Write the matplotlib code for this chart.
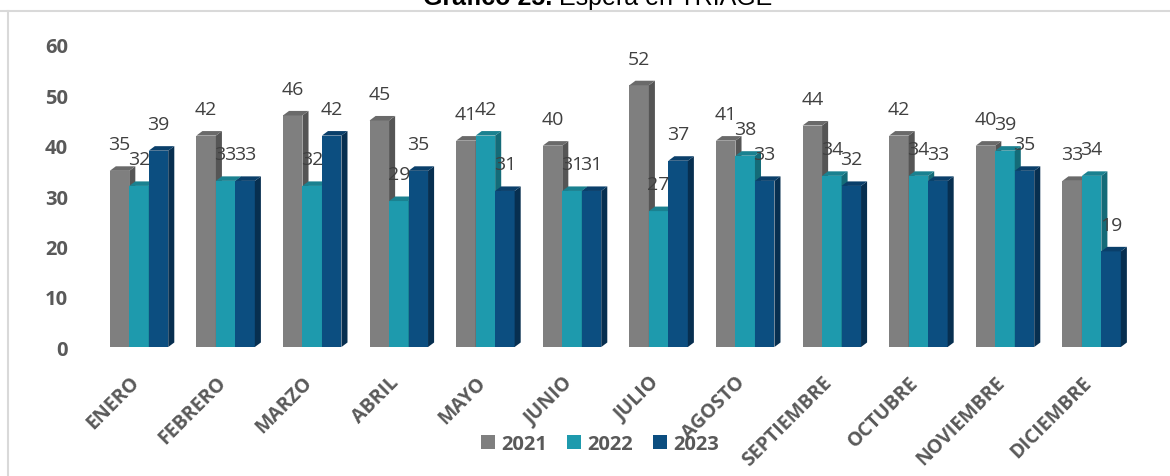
import matplotlib
matplotlib.use("Agg")
import matplotlib.pyplot as plt
import matplotlib.transforms as mtransforms
from matplotlib.patches import Polygon, Patch
from matplotlib.lines import Line2D
import numpy as np

months = ["ENERO", "FEBRERO", "MARZO", "ABRIL", "MAYO", "JUNIO", "JULIO",
          "AGOSTO", "SEPTIEMBRE", "OCTUBRE", "NOVIEMBRE", "DICIEMBRE"]
years = ["2021", "2022", "2023"]
v2021 = [35, 42, 46, 45, 41, 40, 52, 41, 44, 42, 40, 33]
v2022 = [32, 33, 32, 29, 42, 31, 27, 38, 34, 34, 39, 34]
v2023 = [39, 33, 42, 35, 31, 31, 37, 33, 32, 33, 35, 19]

front = ["#7f7f7f", "#1e9aad", "#0c4e80"]
side = ["#555555", "#146b78", "#072f50"]
top = ["#6a6a6a", "#1a8190", "#0a3f6a"]

plt.rcParams["font.family"] = ["Open Sans", "DejaVu Sans"]

fig = plt.figure(figsize=(11.7, 4.77), dpi=100)
ax = fig.add_axes([0.0818, 0.2704, 0.8882, 0.6332])

x = np.arange(len(months))
w = 0.225
dx, dy = 0.07, 0.9  # depth of the fake 3D faces, in data units

for k, vals in enumerate([v2021, v2022, v2023]):
    xs = x + (k - 1) * w
    ax.bar(xs, vals, width=w, color=front[k], zorder=3 + 3 * k, linewidth=0)
    for xc, h in zip(xs, vals):
        x0, x1 = xc - w / 2, xc + w / 2
        ax.add_patch(Polygon([(x1, 0), (x1 + dx, dy), (x1 + dx, h + dy), (x1, h)],
                             closed=True, facecolor=side[k], edgecolor="none",
                             zorder=4 + 3 * k))
        ax.add_patch(Polygon([(x0, h), (x0 + dx, h + dy), (x1 + dx, h + dy), (x1, h)],
                             closed=True, facecolor=top[k], edgecolor="none",
                             zorder=4 + 3 * k))
        ax.text(xc, h + 5.3, str(h), ha="center", va="center", fontsize=14,
                color="#404040", zorder=20)

ax.set_xlim(-0.5, len(months) - 0.5)
ax.set_ylim(0, 60)
ax.set_yticks(range(0, 61, 10))
ax.set_xticks(x)
ax.set_xticklabels([])

# month names, rotated, ending just under each group
lab_tr = ax.get_xaxis_transform() + mtransforms.ScaledTranslation(
    -0.10, -0.25, fig.dpi_scale_trans)
for i, m in enumerate(months):
    ax.text(i, 0, m, transform=lab_tr, rotation=45, ha="right", va="top",
            rotation_mode="anchor", fontsize=14, fontweight="bold",
            color="#595959")

for lab in ax.get_yticklabels():
    lab.set_fontweight("bold")
ax.tick_params(axis="y", length=0, pad=20, labelsize=14.5, labelcolor="#595959")
ax.tick_params(axis="x", length=0)
for s in ax.spines.values():
    s.set_visible(False)
ax.patch.set_visible(False)

handles = [Patch(facecolor=c, edgecolor="none") for c in front]
fig.legend(handles, years, loc="center", bbox_to_anchor=(0.513, 0.067),
           ncol=3, frameon=False, handlelength=0.7, handleheight=0.7,
           handletextpad=0.3, columnspacing=1.0,
           prop={"weight": "bold", "size": 14.5}, labelcolor="#595959")

# chart area border
fig.add_artist(Line2D([0, 1], [0.975, 0.975], transform=fig.transFigure,
                      color="#d9d9d9", lw=1.5))
fig.add_artist(Line2D([0.0065, 0.0065], [0, 0.975], transform=fig.transFigure,
                      color="#d9d9d9", lw=1.5))

# title, partly cut by the top edge
t1 = fig.text(0.5, 0.9895, "Gráfico 25.", ha="right", va="baseline",
              fontsize=18, fontweight="bold", family="Liberation Sans", color="black")
t2 = fig.text(0.5, 0.9895, " Espera en TRIAGE", ha="left", va="baseline",
              fontsize=18, family="Liberation Sans", color="black")
fig.canvas.draw()
r = fig.canvas.get_renderer()
w1 = t1.get_window_extent(r).width
w2 = t2.get_window_extent(r).width
cx = 598 - (w1 + w2) / 2 + w1
t1.set_x(cx / 1170)
t2.set_x(cx / 1170)

fig.savefig("out.png", dpi=100)
